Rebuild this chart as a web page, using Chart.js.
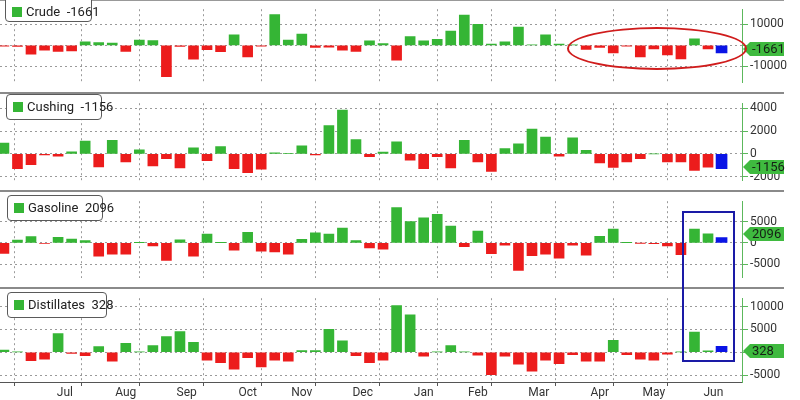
<!DOCTYPE html>
<html><head><meta charset="utf-8">
<script src="https://cdn.jsdelivr.net/npm/chart.js@4"></script>
<style>
html,body{margin:0;padding:0;background:#fff;}
#wrap{position:relative;width:800px;height:400px;overflow:hidden;font-family:Roboto,"Liberation Sans",sans-serif;}
canvas{position:absolute;left:0;}
.sep{position:absolute;left:0;width:784px;height:2px;background:#8a8a8a;z-index:2;}
.leg{position:absolute;background:#fff;border:1px solid #5a5a5a;border-radius:4px;font-size:13px;color:#222;height:26px;line-height:24px;box-sizing:border-box;padding-left:6px;white-space:nowrap;z-index:3;}
.leg i{display:inline-block;width:10px;height:10px;background:#35b535;margin-right:4px;vertical-align:-1px;}
.ell{position:absolute;left:567px;top:27px;width:180px;height:43px;border:2px solid #d01c1c;border-radius:50%;box-sizing:border-box;z-index:4;}
.rect{position:absolute;left:682px;top:211px;width:53px;height:151px;border:2px solid #1a1aa6;box-sizing:border-box;z-index:4;}
</style></head>
<body><div id="wrap">
<div class="sep" style="top:0;height:1px;background:#999"></div>
<canvas id="c1" width="800" height="92" style="top:0"></canvas>
<div class="sep" style="top:92px"></div>
<canvas id="c2" width="800" height="96" style="top:94px"></canvas>
<div class="sep" style="top:190px"></div>
<canvas id="c3" width="800" height="95" style="top:192px"></canvas>
<div class="sep" style="top:287px"></div>
<canvas id="c4" width="800" height="111" style="top:289px"></canvas>
<div class="leg" id="l1" style="left:5px;top:-4px;width:87px;line-height:29px"></div>
<div class="leg" id="l2" style="left:6px;top:94px;width:96px"></div>
<div class="leg" id="l3" style="left:7px;top:195px;width:96px"></div>
<div class="leg" id="l4" style="left:7px;top:292px;width:100px"></div>
<div class="ell"></div>
<div class="rect"></div>
</div>
<script>
// ---- data ----
const seriesNames = ['Crude', 'Cushing', 'Gasoline', 'Distillates'];
const crude = [-400,-500,-4200,-2300,-2800,-2600,1700,1400,1100,-2800,2600,2300,-14900,-500,-6500,-2000,-3000,5100,-5400,-300,14700,2600,5400,-1000,-800,-2300,-2800,2200,900,-7000,4200,2200,2900,6800,14400,10000,600,1700,8700,200,5100,600,300,-1900,-900,-3500,-300,-5400,-1700,-4500,-6400,3200,-1661];
const cushing = [940,-1290,-940,-100,-190,190,1130,-1130,1180,-700,350,-1060,-420,-1220,540,-590,640,-1290,-1650,-1340,100,30,700,-100,2470,3840,1250,-240,160,1060,-540,-1290,-240,-1220,1180,-700,-1530,470,870,2160,1460,-190,1410,300,-780,-1180,-700,-420,0,-700,-700,-1440,-1156];
const gasoline = [-2470,630,1460,-100,1270,890,510,-3160,-2660,-2660,50,-700,-4110,700,-3160,2090,50,-1710,2470,-1960,-2150,-2660,820,2340,2090,3480,510,-1200,-1460,8290,5000,5890,6710,3920,-890,2780,-2530,-570,-6460,-3040,-2660,-3610,-570,-2910,1520,3230,50,-50,-200,-700,-2780,3230,2096];
const distillates = [500,50,-1840,-1510,4080,-260,-720,1250,-1970,1970,50,1450,3420,4540,2170,-1710,-2300,-3680,-1180,-3220,-1710,-1970,390,390,5000,2500,-720,-2300,-1710,10200,8220,-860,50,1450,50,-660,-4930,-860,-2630,-4140,-1710,-2500,-530,-1970,-1970,2630,-530,-1510,-1710,-400,100,4410,328];
const estimates = [-3500, -1290, 1250, 1300];
const monthNames = ['Jul','Aug','Sep','Oct','Nov','Dec','Jan','Feb','Mar','Apr','May','Jun'];
const monthStarts = [2,7,11,16,20,24,29,33,37,42,46,50];
const monthMids = [4.5,9,13.5,18,22,26.5,31,35,39.5,44,48,52.4];
const yTicks = [[-10000,0,10000],[-2000,0,2000,4000],[-5000,0,5000],[-5000,0,5000,10000]];
const yMins = [-17757, -2353, -8226, -6514];
const yMaxs = [17224, 4431, 9801, 11843];

// ---- styles ----
const GREEN = '#35b535', RED = '#ec1c1c', BLUE = '#0a14e6', TAG = '#3fba3f', AXISG = '#5cb85c', GRID = '#9a9a9a';
const X_MIN = -0.29, X_MAX = 54.51;
const FONT = {family: 'Roboto, "Liberation Sans", sans-serif', size: 12};

const tagPlugin = {
  id: 'tag',
  afterDraw(chart, args, opts) {
    const {ctx, chartArea} = chart;
    const y = chart.scales.y;
    const v = opts.value;
    const yy = Math.round(y.getPixelForValue(v));
    const x0 = chartArea.right + 1, x1 = 784, h = 14;
    ctx.save();
    ctx.fillStyle = TAG;
    ctx.beginPath();
    ctx.moveTo(x0, yy);
    ctx.lineTo(x0 + 7, yy - h / 2);
    ctx.lineTo(x1, yy - h / 2);
    ctx.lineTo(x1, yy + h / 2);
    ctx.lineTo(x0 + 7, yy + h / 2);
    ctx.closePath();
    ctx.fill();
    ctx.fillStyle = '#152015';
    ctx.font = '13px Roboto, "Liberation Sans", sans-serif';
    ctx.textBaseline = 'middle';
    ctx.textAlign = 'left';
    ctx.fillText(String(v), x0 + 9, yy + 1);
    ctx.restore();
  }
};

const allTicks = monthStarts.concat(monthMids).sort((a, b) => a - b);
const isStart = v => monthStarts.includes(v);

function makeChart(id, series, est, k, isBottom) {
  const pts = series.map((v, i) => ({x: i, y: v}));
  const last = series[series.length - 1];
  const span = yMaxs[k] - yMins[k];
  return new Chart(document.getElementById(id), {
    type: 'bar',
    data: {datasets: [
      {data: pts, backgroundColor: series.map(v => v >= 0 ? GREEN : RED), barThickness: 10, grouped: false, borderWidth: 0},
      {data: [{x: series.length, y: est}], backgroundColor: BLUE, barThickness: 11, grouped: false, borderWidth: 0}
    ]},
    options: {
      responsive: false, animation: false, devicePixelRatio: 1,
      layout: {padding: 0},
      plugins: {legend: {display: false}, tooltip: {enabled: false}, tag: {value: last}},
      scales: {
        x: {
          type: 'linear', min: X_MIN, max: X_MAX, offset: false,
          afterBuildTicks: s => { s.ticks = allTicks.map(v => ({value: v})); },
          afterFit: s => { s.height = isBottom ? 18 : 0; },
          grid: {
            color: c => (c.tick && isStart(c.tick.value)) ? GRID : 'rgba(0,0,0,0)',
            drawTicks: isBottom, tickLength: 4, tickBorderDash: [],
            tickColor: c => (c.tick && isStart(c.tick.value)) ? '#555' : 'rgba(0,0,0,0)'
          },
          border: {display: isBottom, color: '#555', dash: [2, 3]},
          ticks: {
            display: isBottom, autoSkip: false, maxRotation: 0, minRotation: 0, padding: 0,
            font: FONT, color: '#333',
            callback: v => { const i = monthMids.indexOf(v); return i >= 0 ? monthNames[i] : ''; }
          }
        },
        y: {
          position: 'right', min: yMins[k], max: yMaxs[k],
          afterBuildTicks: s => { s.ticks = yTicks[k].map(v => ({value: v})); },
          afterFit: s => { s.width = 58; },
          grid: {color: GRID, tickColor: AXISG, tickLength: 6, tickBorderDash: []},
          border: {color: AXISG, dash: [2, 3]},
          ticks: {font: FONT, color: '#333', padding: 2,
            callback: v => Math.abs(v - last) / span < 0.1 ? '' : String(v)}
        }
      }
    },
    plugins: [tagPlugin]
  });
}

const all = [crude, cushing, gasoline, distillates];
['c1', 'c2', 'c3', 'c4'].forEach((id, k) => makeChart(id, all[k], estimates[k], k, k === 3));
['l1', 'l2', 'l3', 'l4'].forEach((id, k) => {
  const s = all[k];
  document.getElementById(id).innerHTML = '<i></i>' + seriesNames[k] + '&nbsp;&nbsp;' + s[s.length - 1];
});
</script>
</body></html>
